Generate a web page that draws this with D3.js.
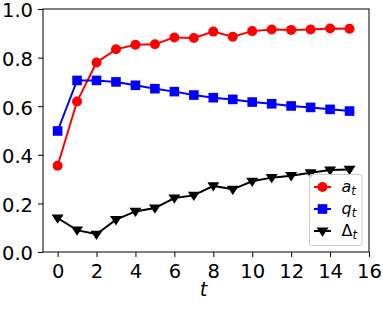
<!DOCTYPE html>
<html>
<head>
<meta charset="utf-8">
<script src="https://cdn.jsdelivr.net/npm/d3@7"></script>
<style>
body { margin: 0; background: #fff; }
text { font-family: "DejaVu Sans", sans-serif; }
</style>
</head>
<body>
<svg id="chart" width="383" height="310"></svg>
<script>
// data
var steps = [0, 1, 2, 3, 4, 5, 6, 7, 8, 9, 10, 11, 12, 13, 14, 15];
var aVals = [0.355, 0.619, 0.780, 0.834, 0.853, 0.855, 0.883, 0.881, 0.907, 0.886, 0.909, 0.916, 0.914, 0.916, 0.920, 0.919];
var qVals = [0.498, 0.706, 0.706, 0.700, 0.686, 0.672, 0.660, 0.646, 0.635, 0.628, 0.617, 0.610, 0.601, 0.595, 0.587, 0.580];
var dVals = [0.140, 0.090, 0.073, 0.133, 0.167, 0.181, 0.222, 0.233, 0.272, 0.258, 0.291, 0.306, 0.314, 0.326, 0.337, 0.340];
var xTicks = [0, 2, 4, 6, 8, 10, 12, 14, 16];
var yTicks = [0, 0.2, 0.4, 0.6, 0.8, 1.0];

var svg = d3.select("#chart");
var plotL = 43, plotR = 369, plotT = 9, plotB = 252;

var x = d3.scaleLinear().domain([-0.75, 16]).range([plotL, plotR]);
var y = d3.scaleLinear().domain([0, 1]).range([plotB, plotT]);

// axes
var xAxis = d3.axisBottom(x).tickValues(xTicks).tickSize(5).tickPadding(7).tickFormat(d3.format("d"));
var yAxis = d3.axisLeft(y).tickValues(yTicks).tickSize(5).tickPadding(5).tickFormat(d3.format(".1f"));

svg.append("g").attr("transform", "translate(0," + plotB + ")").call(xAxis)
    .call(function (g) { g.select(".domain").remove(); });
svg.append("g").attr("transform", "translate(" + plotL + ",0)").call(yAxis)
    .call(function (g) { g.select(".domain").remove(); })
    .selectAll(".tick text").attr("dy", "0.4em");

svg.selectAll(".tick line").attr("stroke", "#000").attr("stroke-width", 1);
svg.selectAll(".tick text").attr("fill", "#000").style("font-size", "19.5px");

svg.append("rect")
    .attr("x", plotL).attr("y", plotT)
    .attr("width", plotR - plotL).attr("height", plotB - plotT)
    .attr("fill", "none").attr("stroke", "#000").attr("stroke-width", 1);

svg.append("text")
    .attr("x", x(7.5)).attr("y", 296)
    .attr("text-anchor", "middle")
    .style("font-size", "19.5px").style("font-style", "italic")
    .text("t");

var series = [
    { vals: aVals, color: "#ff0000", marker: "circle", label: "a" },
    { vals: qVals, color: "#0000ff", marker: "square", label: "q" },
    { vals: dVals, color: "#000000", marker: "tri", label: "Δ" }
];

var line = d3.line().x(function (d, i) { return x(steps[i]); }).y(function (d) { return y(d); });

function drawMarker(g, kind, cx, cy, color) {
    if (kind === "circle") {
        g.append("circle").attr("cx", cx).attr("cy", cy).attr("r", 5).attr("fill", color);
    } else if (kind === "square") {
        g.append("rect").attr("x", cx - 4.8).attr("y", cy - 4.8).attr("width", 9.6).attr("height", 9.6).attr("fill", color);
    } else {
        var s = 6;
        g.append("path")
            .attr("d", "M" + (cx - s) + "," + (cy - s * 0.6) + "L" + (cx + s) + "," + (cy - s * 0.6) + "L" + cx + "," + (cy + s * 0.95) + "Z")
            .attr("fill", color);
    }
}

series.forEach(function (s) {
    var g = svg.append("g");
    g.append("path").datum(s.vals)
        .attr("d", line)
        .attr("fill", "none").attr("stroke", s.color).attr("stroke-width", 2);
    s.vals.forEach(function (v, i) {
        drawMarker(g, s.marker, x(steps[i]), y(v), s.color);
    });
});

// legend
var lg = svg.append("g");
lg.append("rect")
    .attr("x", 309.5).attr("y", 174.5).attr("width", 52.5).attr("height", 71).attr("rx", 2)
    .attr("fill", "#fff").attr("fill-opacity", 0.8)
    .attr("stroke", "#ccc").attr("stroke-width", 1);

series.forEach(function (s, i) {
    var ly = 187 + i * 22;
    lg.append("line").attr("x1", 314).attr("x2", 331).attr("y1", ly).attr("y2", ly)
        .attr("stroke", s.color).attr("stroke-width", 2);
    drawMarker(lg, s.marker, 322.5, ly, s.color);
    var t = lg.append("text").attr("x", 341.5).attr("y", ly + 5)
        .style("font-size", "16px").attr("fill", "#000");
    t.append("tspan").style("font-style", s.label === "Δ" ? "normal" : "italic").text(s.label);
    t.append("tspan").attr("dy", 3).style("font-size", "11.5px").style("font-style", "italic").text("t");
});
</script>
</body>
</html>
